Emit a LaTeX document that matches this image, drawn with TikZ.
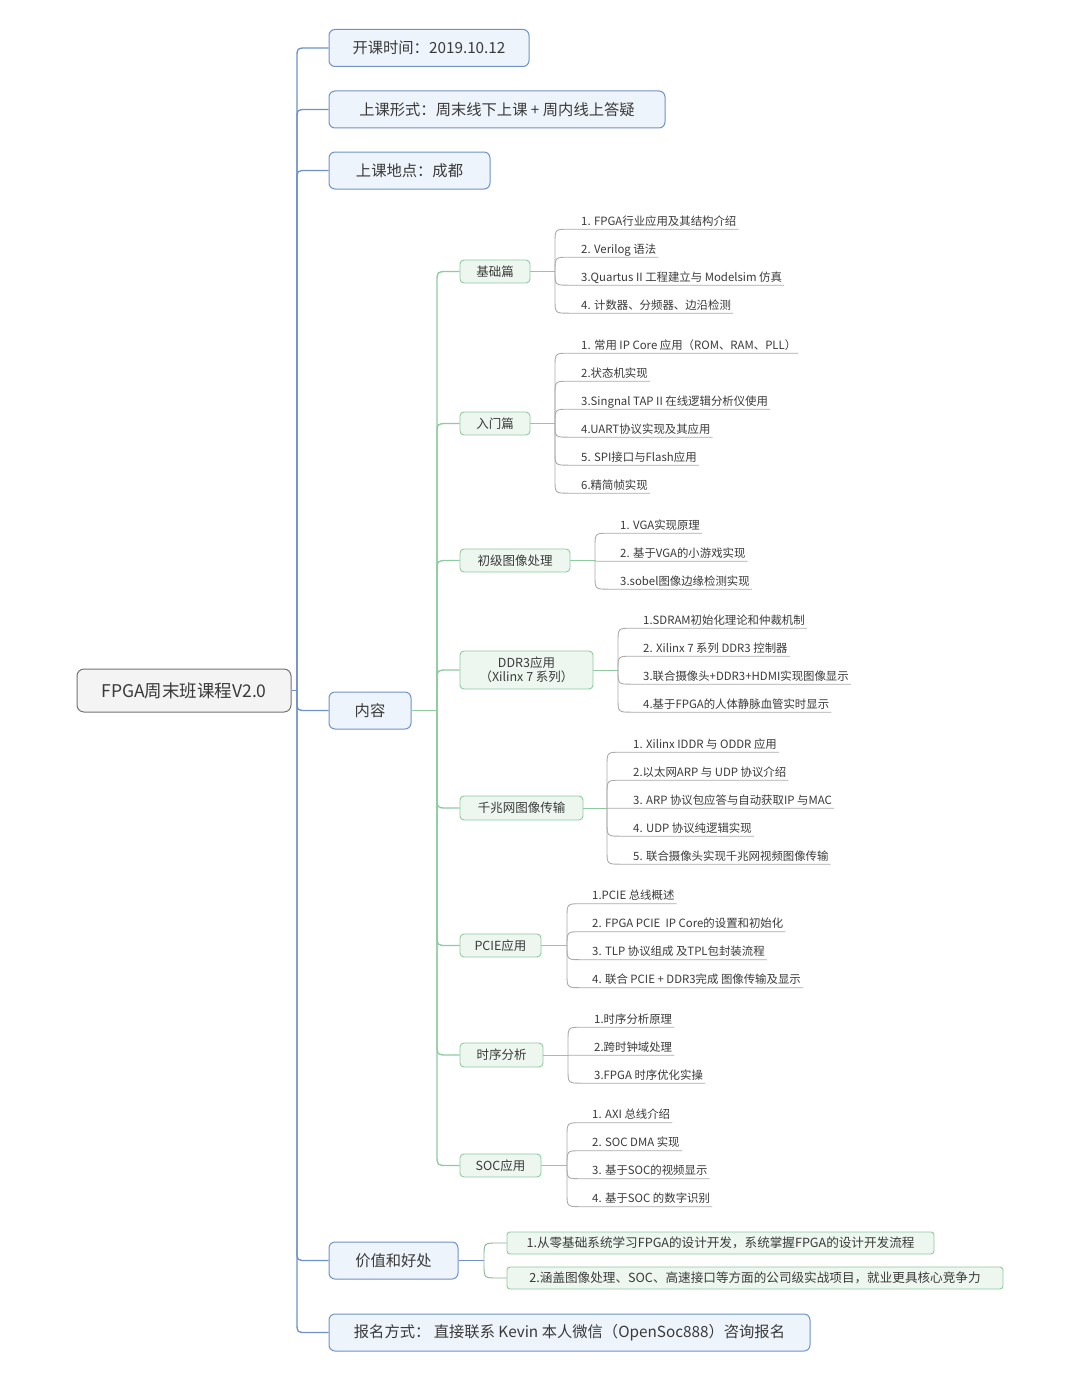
\documentclass[tikz,border=0pt]{standalone}
\usepackage{fontspec}
\setmainfont{Noto Sans CJK SC}
\usetikzlibrary{calc}
\definecolor{txt}{HTML}{3A3A3A}
\definecolor{bluel}{HTML}{6F93C8}
\definecolor{bluef}{HTML}{EEF4FB}
\definecolor{greenl}{HTML}{8FCBA1}
\definecolor{greenf}{HTML}{EDF7EF}
\definecolor{greyl}{HTML}{ABABAB}
\definecolor{rootl}{HTML}{737373}
\definecolor{rootf}{HTML}{F4F4F4}
\newcommand\curvelink[4]{%
  \draw[#1] let \p1=(#2), \p2=(#3), \n1={min(#4,abs(\y2-\y1))}, \n2={sign(\y2-\y1)} in
    (\p1) -- (\x1,{\y2-\n2*\n1}) .. controls (\x1,\y2) .. ({\x1+\n1},\y2) -- (\p2);}
\begin{document}
\begin{tikzpicture}[x=1pt,y=-1pt,
  every node/.style={text=txt},
  rootbox/.style={draw=rootl,fill=rootf,rounded corners=7pt,line width=1pt,inner sep=0pt,font=\fontsize{17.5}{20}\selectfont},
  lonebox/.style={draw=bluel,fill=bluef,rounded corners=6pt,line width=1pt,inner sep=0pt,minimum height=37pt,font=\fontsize{15.3}{18}\selectfont},
  ltwobox/.style={draw=greenl,fill=greenf,rounded corners=4pt,line width=0.9pt,inner sep=0pt,minimum height=23pt,font=\fontsize{12.5}{14}\selectfont},
  valbox/.style={draw=greenl,fill=greenf,rounded corners=3pt,line width=0.9pt,inner sep=0pt,minimum height=22pt,font=\fontsize{12.6}{14}\selectfont},
  leaf/.style={anchor=base west,inner xsep=2pt,inner ysep=0pt,text depth=4pt,font=\fontsize{11.4}{13}\selectfont},
  trunkc/.style={draw=bluel,line width=1.3pt},
  greenc/.style={draw=greenl,line width=1.3pt},
  leafc/.style={draw=greyl,line width=0.9pt},
  valc/.style={draw=greenl!70!gray,line width=0.9pt}]
\useasboundingbox[fill=white] (0,0) rectangle (1080,1386);

% root and level one
\node[rootbox,minimum width=214pt,minimum height=43pt] (root) at (184,690.5) {FPGA周末班课程V2.0};
\node[lonebox,minimum width=200pt] (t1) at (429,48) {开课时间：2019.10.12};
\node[lonebox,minimum width=336pt] (t2) at (497,109.5) {上课形式：周末线下上课 + 周内线上答疑};
\node[lonebox,minimum width=161pt] (t3) at (409.5,170.5) {上课地点：成都};
\node[lonebox,minimum width=82pt] (t4) at (370,710.5) {内容};
\node[lonebox,minimum width=129pt] (t5) at (393.5,1260.5) {价值和好处};
\node[lonebox,minimum width=481pt] (t6) at (569.5,1332.5) {报名方式： 直接联系 Kevin 本人微信（OpenSoc888）咨询报名};

\coordinate (T) at (297,690.5);
\draw[trunkc] (root.east) -- (T);
\foreach \nm in {t1,t2,t3,t4,t5,t6}{\curvelink{trunkc}{T}{\nm.west}{10}}

% level two
\node[ltwobox,minimum width=70pt] (g1) at (495,271.5) {基础篇};
\node[ltwobox,minimum width=70pt] (g2) at (495,423.5) {入门篇};
\node[ltwobox,minimum width=110pt] (g3) at (515,560.5) {初级图像处理};
\node[ltwobox,minimum width=133pt,minimum height=38pt,align=center] (g4) at (526.5,670) {DDR3应用\\（Xilinx 7 系列）};
\node[ltwobox,minimum width=123pt,minimum height=24pt] (g5) at (521.5,808) {千兆网图像传输};
\node[ltwobox,minimum width=81pt] (g6) at (500.5,945.5) {PCIE应用};
\node[ltwobox,minimum width=83pt,minimum height=24pt] (g7) at (501.5,1055) {时序分析};
\node[ltwobox,minimum width=81pt] (g8) at (500.5,1165.5) {SOC应用};

\coordinate (G) at (437,710.5);
\draw[greenc] (t4.east) -- (G);
\foreach \nm in {g1,g2,g3,g4,g5,g6,g7,g8}{\curvelink{greenc}{G}{\nm.west}{11}}

% bracket points
\coordinate (b1) at (555,271.5);
\coordinate (b2) at (555,423.5);
\coordinate (b3) at (595,560.5);
\coordinate (b4) at (618,670);
\coordinate (b5) at (607,808);
\coordinate (b6) at (567,945.5);
\coordinate (b7) at (568,1055);
\coordinate (b8) at (567,1165.5);
\foreach \i in {1,...,8}{\draw[greenc,line width=1pt] (g\i.east) -- (b\i);}

% leaves: 基础篇
\node[leaf] (a1) at (579,225) {1. FPGA行业应用及其结构介绍};
\node[leaf] (a2) at (579,253) {2. Verilog 语法};
\node[leaf] (a3) at (579,281) {3.Quartus II 工程建立与 Modelsim 仿真};
\node[leaf] (a4) at (579,309) {4. 计数器、分频器、边沿检测};
\foreach \nm in {a1,a2,a3,a4}{\curvelink{leafc}{b1}{\nm.south east}{14}}

% 入门篇
\node[leaf] (c1) at (579,349) {1. 常用 IP Core 应用（ROM、RAM、PLL）};
\node[leaf] (c2) at (579,377) {2.状态机实现};
\node[leaf] (c3) at (579,405) {3.Singnal TAP II 在线逻辑分析仪使用};
\node[leaf] (c4) at (579,433) {4.UART协议实现及其应用};
\node[leaf] (c5) at (579,461) {5. SPI接口与Flash应用};
\node[leaf] (c6) at (579,489) {6.精简帧实现};
\foreach \nm in {c1,c2,c3,c4,c5,c6}{\curvelink{leafc}{b2}{\nm.south east}{14}}

% 初级图像处理
\node[leaf] (d1) at (618,529) {1. VGA实现原理};
\node[leaf] (d2) at (618,557) {2. 基于VGA的小游戏实现};
\node[leaf] (d3) at (618,585) {3.sobel图像边缘检测实现};
\foreach \nm in {d1,d2,d3}{\curvelink{leafc}{b3}{\nm.south east}{14}}

% DDR3
\node[leaf] (e1) at (641,624) {1.SDRAM初始化理论和仲裁机制};
\node[leaf] (e2) at (641,652) {2. Xilinx 7 系列 DDR3 控制器};
\node[leaf] (e3) at (641,680) {3.联合摄像头+DDR3+HDMI实现图像显示};
\node[leaf] (e4) at (641,708) {4.基于FPGA的人体静脉血管实时显示};
\foreach \nm in {e1,e2,e3,e4}{\curvelink{leafc}{b4}{\nm.south east}{14}}

% 千兆网
\node[leaf] (f1) at (631,748) {1. Xilinx IDDR 与 ODDR 应用};
\node[leaf] (f2) at (631,776) {2.以太网ARP 与 UDP 协议介绍};
\node[leaf] (f3) at (631,804) {3. ARP 协议包应答与自动获取IP 与MAC};
\node[leaf] (f4) at (631,832) {4. UDP 协议纯逻辑实现};
\node[leaf] (f5) at (631,860) {5. 联合摄像头实现千兆网视频图像传输};
\foreach \nm in {f1,f2,f3,f4,f5}{\curvelink{leafc}{b5}{\nm.south east}{14}}

% PCIE
\node[leaf] (h1) at (590,899.5) {1.PCIE 总线概述};
\node[leaf] (h2) at (590,927.5) {2. FPGA PCIE\ \ IP Core的设置和初始化};
\node[leaf] (h3) at (590,955.5) {3. TLP 协议组成 及TPL包封装流程};
\node[leaf] (h4) at (590,983.5) {4. 联合 PCIE + DDR3完成 图像传输及显示};
\foreach \nm in {h1,h2,h3,h4}{\curvelink{leafc}{b6}{\nm.south east}{14}}

% 时序分析
\node[leaf] (k1) at (592,1023) {1.时序分析原理};
\node[leaf] (k2) at (592,1051) {2.跨时钟域处理};
\node[leaf] (k3) at (592,1079) {3.FPGA 时序优化实操};
\foreach \nm in {k1,k2,k3}{\curvelink{leafc}{b7}{\nm.south east}{14}}

% SOC
\node[leaf] (m1) at (590,1118.5) {1. AXI 总线介绍};
\node[leaf] (m2) at (590,1146.5) {2. SOC DMA 实现};
\node[leaf] (m3) at (590,1174.5) {3. 基于SOC的视频显示};
\node[leaf] (m4) at (590,1202.5) {4. 基于SOC 的数字识别};
\foreach \nm in {m1,m2,m3,m4}{\curvelink{leafc}{b8}{\nm.south east}{14}}

% 价值和好处
\node[valbox,minimum width=427pt] (v1) at (720.5,1243) {1.从零基础系统学习FPGA的设计开发，系统掌握FPGA的设计开发流程};
\node[valbox,minimum width=496pt] (v2) at (755,1278) {2.涵盖图像处理、SOC、高速接口等方面的公司级实战项目，就业更具核心竞争力};
\coordinate (V) at (484,1260.5);
\draw[trunkc,line width=1pt] (t5.east) -- (V);
\foreach \nm in {v1,v2}{\curvelink{valc}{V}{\nm.west}{14}}
\end{tikzpicture}
\end{document}
